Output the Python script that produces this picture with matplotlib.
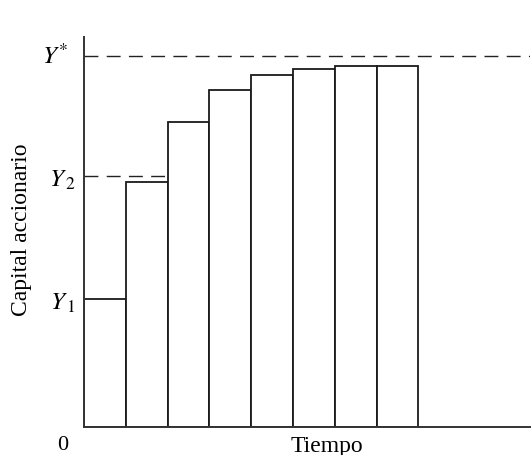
import matplotlib.pyplot as plt

# Capital accionario por periodo (unidades relativas, Y* = 1)
periods = [0, 1, 2, 3, 4, 5, 6, 7]
capital = [0.345, 0.660, 0.820, 0.908, 0.949, 0.965, 0.973, 0.973]
y_star = 1.0
y_2 = 0.677
y_1 = 0.345

plt.rcParams['font.family'] = ['Liberation Serif', 'DejaVu Serif']
plt.rcParams['mathtext.fontset'] = 'stix'

W, H = 532, 456
fig = plt.figure(figsize=(W / 100, H / 100), dpi=100)
ax = fig.add_axes([84 / W, 28 / H, 446 / W, 390 / H])

ax.bar(periods, capital, width=1.0, align="edge", color="white",
       edgecolor="#1a1a1a", linewidth=1.3, zorder=2)

ax.axhline(y_star, color="#222222", linewidth=1.0, dashes=(10, 6), zorder=1)
ax.plot([0, 1.95], [y_2, y_2], color="#222222", linewidth=1.0,
        dashes=(10, 6), zorder=1)

ax.set_xlim(0, 10.67)
ax.set_ylim(0, 1.05)

for s in ["top", "right"]:
    ax.spines[s].set_visible(False)
for s in ["left", "bottom"]:
    ax.spines[s].set_color("#333333")
    ax.spines[s].set_linewidth(1.4)
ax.set_xticks([])
ax.set_yticks([])

# etiquetas del eje vertical
lab = ax.get_yaxis_transform()
ax.text(-0.035, y_star, "$Y^{*}$", transform=lab, ha="right", va="center",
        fontsize=18)
ax.text(-0.02, y_2 - 0.01, "$Y_{\\,2}$", transform=lab, ha="right",
        va="center", fontsize=18)
ax.text(-0.02, y_1 - 0.01, "$Y_{\\,1}$", transform=lab, ha="right",
        va="center", fontsize=18)

fig.text(63 / W, 1 - 446 / H, "0", ha="center", va="center", fontsize=16)
fig.text(327 / W, 1 - 436 / H, "Tiempo", ha="center", va="top", fontsize=17)
fig.text(22 / W, 1 - 230 / H, "Capital accionario", rotation=90,
         ha="center", va="center", fontsize=17)

fig.savefig("out.png", dpi=100)
